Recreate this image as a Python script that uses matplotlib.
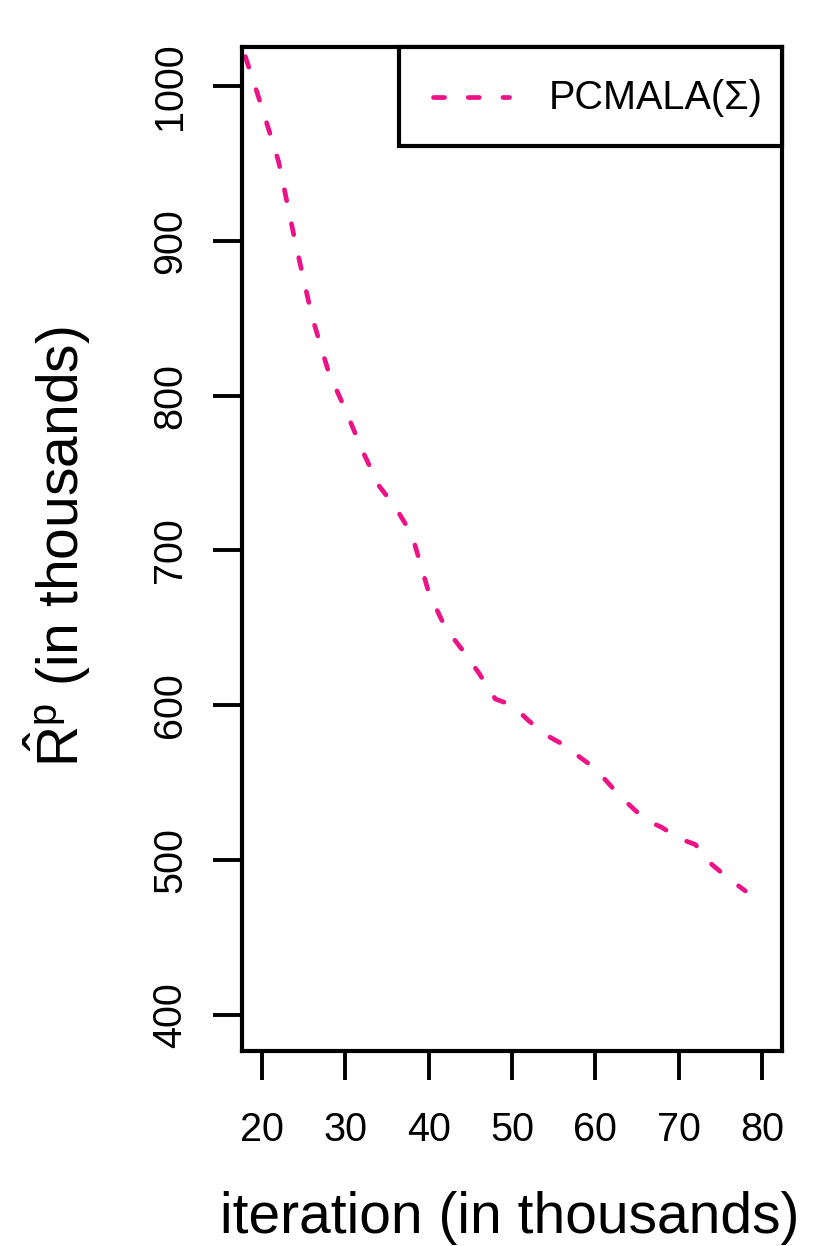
import numpy as np
import matplotlib.pyplot as plt
from matplotlib.legend_handler import HandlerLine2D
from matplotlib.lines import Line2D

# Colors
pink = "#EE1289"
black = "#000000"

plt.rcParams["font.family"] = ["Liberation Sans", "DejaVu Sans"]
plt.rcParams["mathtext.fontset"] = "custom"
plt.rcParams["mathtext.rm"] = "Liberation Sans"
plt.rcParams["mathtext.it"] = "Liberation Sans"
plt.rcParams["mathtext.sf"] = "Liberation Sans"
plt.rcParams["lines.scale_dashes"] = False

# Data
iteration = [18, 20, 22, 24, 26, 28, 30, 32, 34, 36, 38, 40, 42, 44, 46, 48,
             50, 52, 54, 56, 58, 60, 62, 64, 66, 68, 70, 72, 74, 76, 78]
risk = [1019, 986, 951, 899, 851, 815, 791, 765, 742, 728, 710, 673, 650,
        636, 621, 604, 600, 590, 581, 575, 567, 559, 547, 536, 526, 521,
        514, 510, 497, 488, 480]

x_ticks = [20, 30, 40, 50, 60, 70, 80]
y_ticks = [400, 500, 600, 700, 800, 900, 1000]
series_label = "PCMALA(Σ)"


class CenteredLine(HandlerLine2D):
    # draw the legend sample in the middle of the (tall) handle box
    def create_artists(self, legend, orig_handle, xdescent, ydescent,
                       width, height, fontsize, trans):
        artists = super().create_artists(legend, orig_handle, xdescent,
                                         ydescent, width, height, fontsize,
                                         trans)
        for a in artists:
            a.set_ydata(np.asarray(a.get_ydata()) - ydescent / 2)
        return artists


fig = plt.figure(figsize=(8.3, 12.46), dpi=100, facecolor="white")
ax = fig.add_axes([242 / 830, 1 - 1051 / 1246, 540 / 830, 1004 / 1246])

line, = ax.plot(iteration, risk, color=pink, lw=3.4, dashes=(8, 17),
                dash_capstyle="round", label=series_label)

ax.set_xlim(17.6, 82.4)
ax.set_ylim(376.6, 1025.2)
ax.set_xticks(x_ticks)
ax.set_yticks(y_ticks)
ax.set_yticklabels([str(v) for v in y_ticks], rotation=90, va="center")

for s in ax.spines.values():
    s.set_linewidth(3.0)
ax.tick_params(axis="both", length=21, width=2.8, labelsize=28.5, color=black)
ax.tick_params(axis="y", pad=17)
ax.tick_params(axis="x", pad=22)

leg = ax.legend(loc="upper right", borderaxespad=0, fancybox=False,
                edgecolor=black, framealpha=1, fontsize=28.5,
                handlelength=2.32, handleheight=2.0, handletextpad=1.0,
                borderpad=0.48,
                handler_map={Line2D: CenteredLine(xpad=0.38)})
leg.get_frame().set_linewidth(3.0)

fig.text(510 / 830, 1 - 1218 / 1246, "iteration (in thousands)",
         fontsize=41, ha="center", va="center")
fig.text(57 / 830, 1 - 547 / 1246, r"$\hat{\mathrm{R}}^{\mathrm{p}}$ (in thousands)",
         fontsize=41, ha="center", va="center", rotation=90)

fig.savefig("out.png", dpi=100)
